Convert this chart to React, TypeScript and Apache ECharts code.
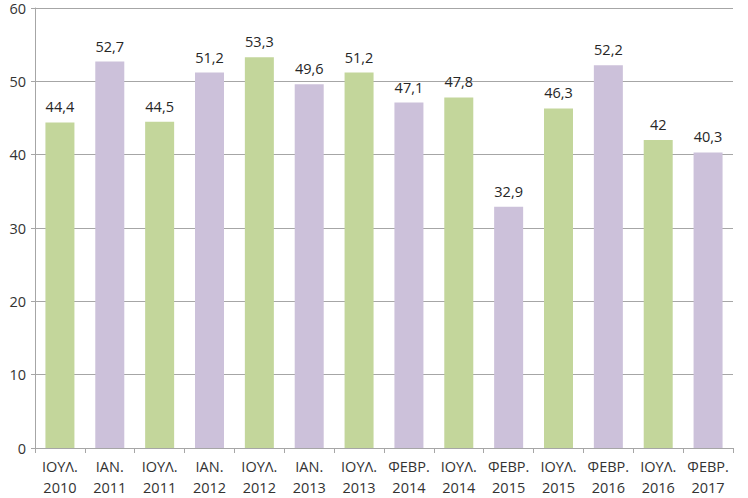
import React, { useEffect, useRef } from "react";
import * as echarts from "echarts";

const categories = [
  "ΙΟΥΛ.\n2010", "ΙΑΝ.\n2011", "ΙΟΥΛ.\n2011", "ΙΑΝ.\n2012", "ΙΟΥΛ.\n2012",
  "ΙΑΝ.\n2013", "ΙΟΥΛ.\n2013", "ΦΕΒΡ.\n2014", "ΙΟΥΛ.\n2014", "ΦΕΒΡ.\n2015",
  "ΙΟΥΛ.\n2015", "ΦΕΒΡ.\n2016", "ΙΟΥΛ.\n2016", "ΦΕΒΡ.\n2017",
];
const values = [44.4, 52.7, 44.5, 51.2, 53.3, 49.6, 51.2, 47.1, 47.8, 32.9, 46.3, 52.2, 42, 40.3];
const yTicks = { min: 0, max: 60, interval: 10 };

const GREEN = "#c3d69b";
const PURPLE = "#ccc1da";
const FONT = "'Open Sans', 'Liberation Sans', sans-serif";

export default function App() {
  const ref = useRef<HTMLDivElement>(null);
  useEffect(() => {
    const chart = echarts.init(ref.current!, null, { renderer: "svg" });
    chart.setOption({
      animation: false,
      backgroundColor: "#ffffff",
      grid: { left: 35, right: 15, top: 8, bottom: 49 },
      xAxis: {
        type: "category",
        data: categories,
        axisLine: { lineStyle: { color: "#a6a6a6" } },
        axisTick: { show: true, length: 5, lineStyle: { color: "#a6a6a6" } },
        axisLabel: {
          interval: 0,
          color: "#333333",
          fontFamily: FONT,
          fontSize: 14.5,
          lineHeight: 21,
          margin: 8,
        },
      },
      yAxis: {
        type: "value",
        min: yTicks.min,
        max: yTicks.max,
        interval: yTicks.interval,
        axisLine: { show: true, lineStyle: { color: "#a6a6a6" } },
        axisTick: { show: true, length: 4, lineStyle: { color: "#a6a6a6" } },
        splitLine: { lineStyle: { color: "#a6a6a6" } },
        axisLabel: { color: "#333333", fontFamily: FONT, fontSize: 14.5, margin: 9 },
      },
      series: [
        {
          type: "bar",
          data: values.map((v, i) => ({
            value: v,
            itemStyle: { color: categories[i].startsWith("ΙΟΥΛ") ? GREEN : PURPLE },
          })),
          barWidth: 29,
          label: {
            show: true,
            position: "top",
            distance: 8,
            color: "#262626",
            fontFamily: FONT,
            fontSize: 14.5,
            formatter: (p: any) => String(p.value).replace(".", ","),
          },
        },
      ],
    });
    return () => chart.dispose();
  }, []);
  return (
    <div
      ref={ref}
      style={{ position: "fixed", left: 0, top: 0, width: 748, height: 498 }}
    />
  );
}
